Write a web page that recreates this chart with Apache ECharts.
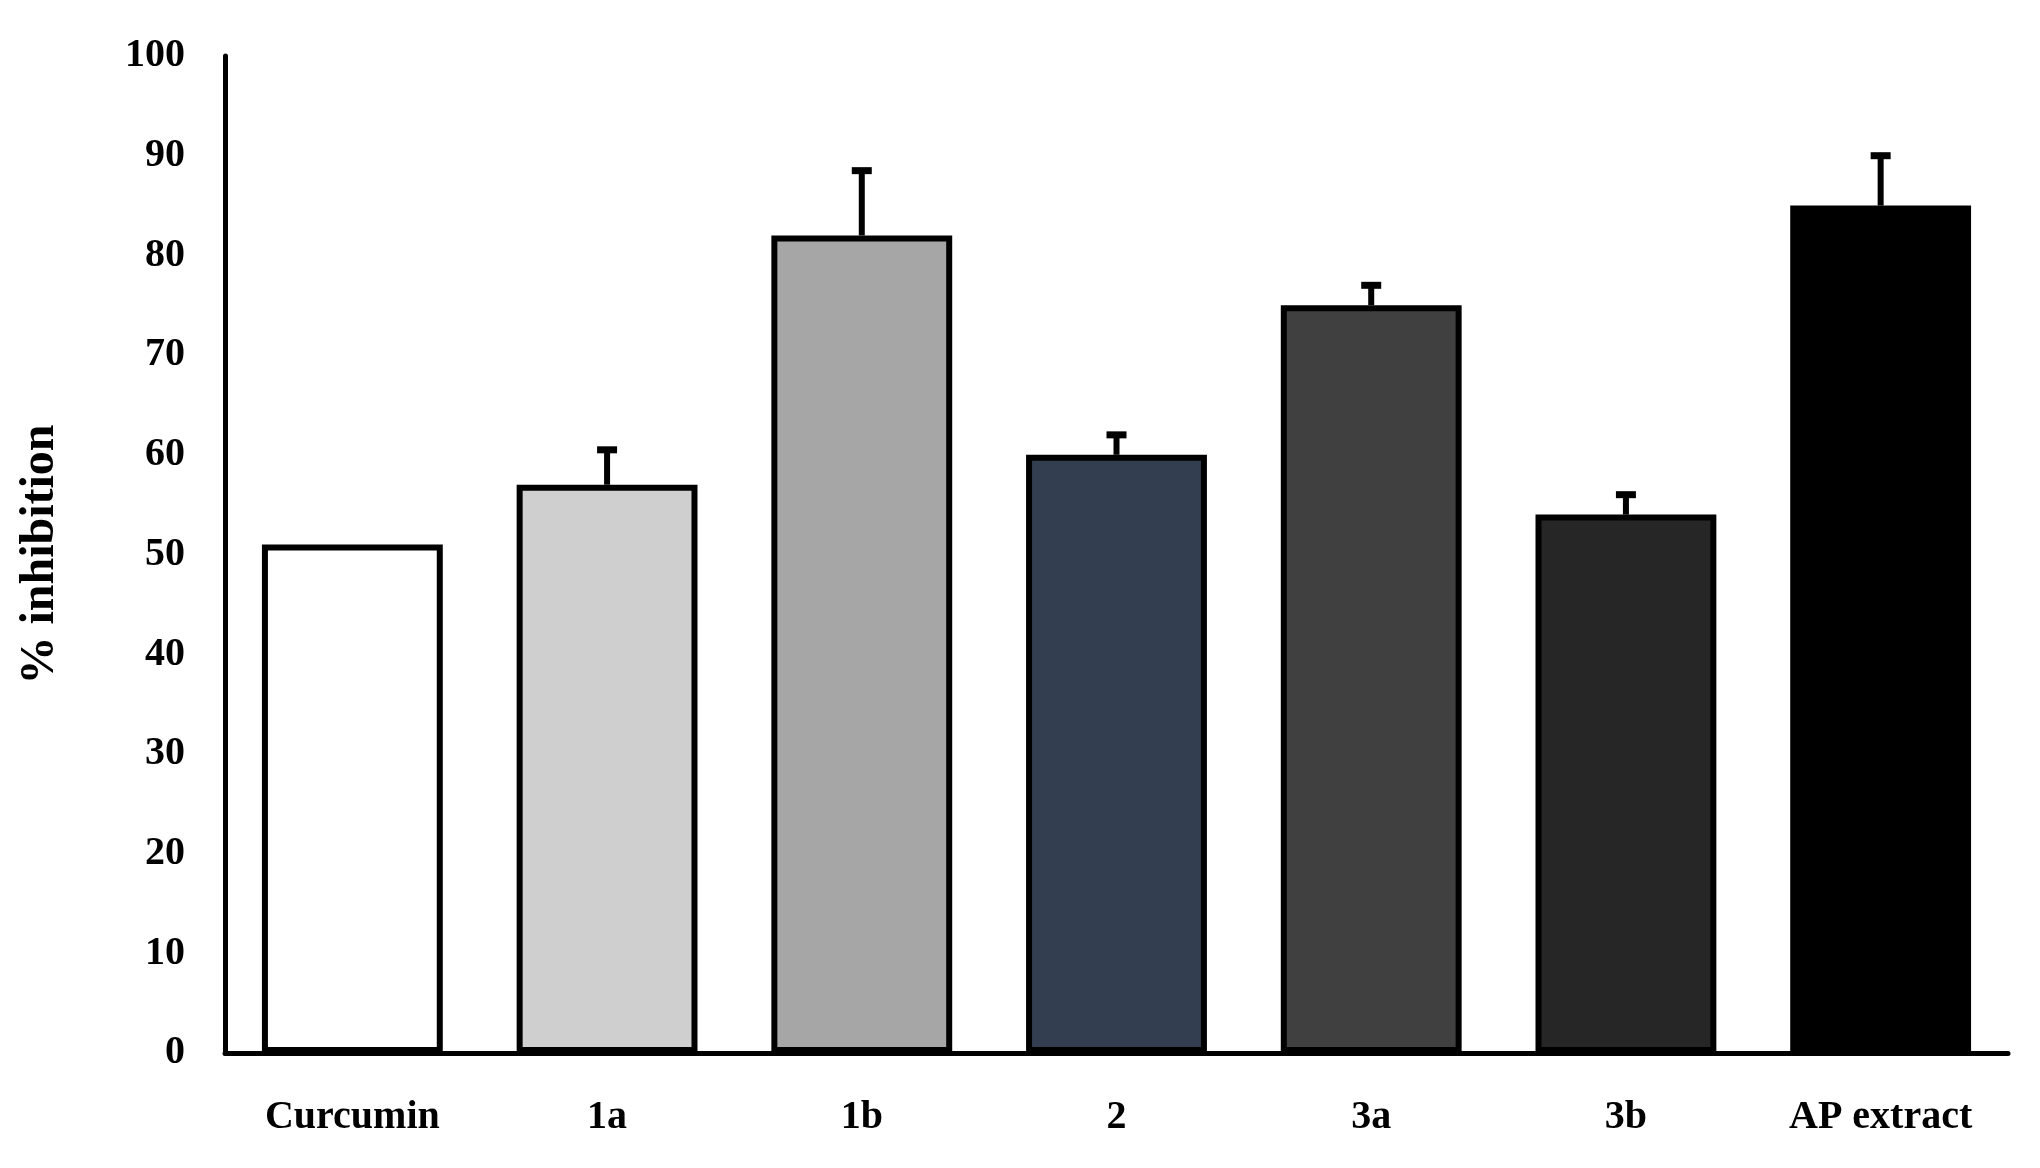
<!DOCTYPE html>
<html>
<head>
<meta charset="utf-8">
<script src="https://cdn.jsdelivr.net/npm/echarts@6/dist/echarts.min.js"></script>
<style>html,body{margin:0;padding:0;background:#fff}#chart{width:2040px;height:1168px}</style>
</head>
<body>
<div id="chart"></div>
<script>
// data
var categories = ['Curcumin', '1a', '1b', '2', '3a', '3b', 'AP extract'];
var values = [51, 57, 82, 60, 75, 54, 85];
var errors = [0, 3.5, 6.5, 2, 2, 2, 5];
var colors = ['#ffffff', '#d0cfd0', '#a6a6a6', '#333f50', '#404040', '#262626', '#000000'];

var font = 'Liberation Serif';
var chart = echarts.init(document.getElementById('chart'));
chart.setOption({
    animation: false,
    grid: {left: 225, right: 32, top: 56, bottom: 115},
    xAxis: {
        type: 'category',
        data: categories,
        axisLine: {lineStyle: {color: '#000', width: 5}},
        axisTick: {show: false},
        axisLabel: {color: '#000', fontFamily: font, fontWeight: 'bold', fontSize: 40, margin: 45}
    },
    yAxis: {
        type: 'value',
        min: 0, max: 100, interval: 10,
        name: '% inhibition',
        nameLocation: 'middle',
        nameGap: 160,
        nameTextStyle: {color: '#000', fontFamily: font, fontWeight: 'bold', fontSize: 48},
        axisLine: {show: true, lineStyle: {color: '#000', width: 5}},
        axisTick: {show: false},
        splitLine: {show: false},
        axisLabel: {color: '#000', fontFamily: font, fontWeight: 'bold', fontSize: 40, margin: 40}
    },
    series: [{
        type: 'bar',
        barCategoryGap: '29%',
        data: values.map(function (v, i) {
            return {value: v, itemStyle: {color: colors[i], borderColor: '#000', borderWidth: 6}};
        }),
        z: 2
    }, {
        type: 'custom',
        z: 1,
        data: values.map(function (v, i) { return [i, v, v + errors[i]]; }),
        renderItem: function (params, api) {
            var lo = api.coord([api.value(0), api.value(1)]);
            var hi = api.coord([api.value(0), api.value(2)]);
            if (api.value(2) <= api.value(1)) return null;
            return {
                type: 'group',
                children: [
                    {type: 'line', shape: {x1: lo[0], y1: lo[1], x2: hi[0], y2: hi[1]}, style: {stroke: '#000', lineWidth: 6}},
                    {type: 'line', shape: {x1: hi[0] - 10, y1: hi[1], x2: hi[0] + 10, y2: hi[1]}, style: {stroke: '#000', lineWidth: 7}}
                ]
            };
        }
    }]
});
</script>
</body>
</html>
